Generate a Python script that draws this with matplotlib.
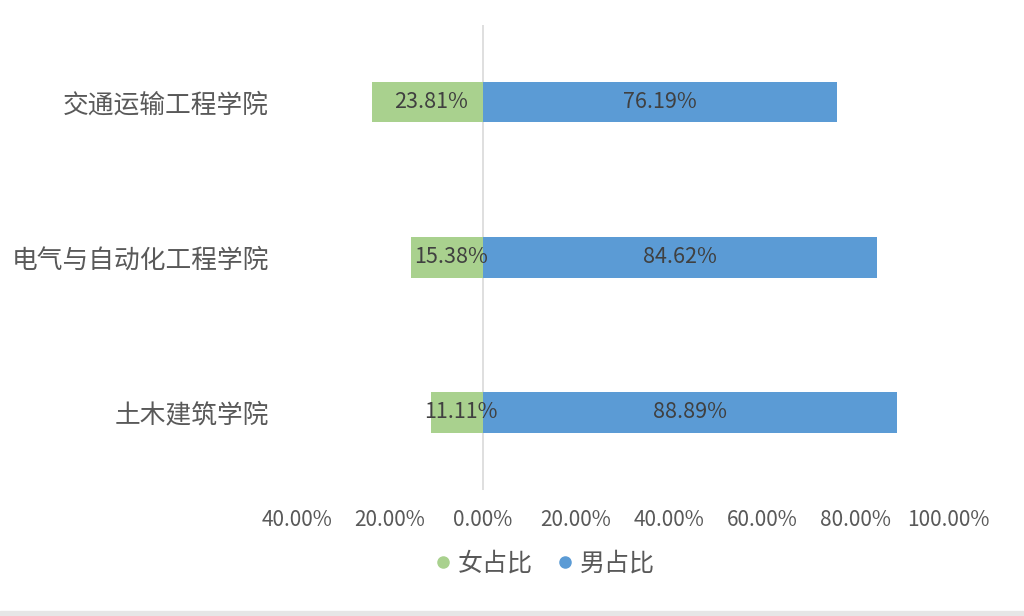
import numpy as np
import matplotlib.pyplot as plt
from matplotlib.patches import Rectangle
from matplotlib.ticker import FuncFormatter

plt.rcParams['font.family'] = ['Noto Sans CJK SC', 'DejaVu Sans']

# 学院与男女占比（%）
colleges = ['交通运输工程学院', '电气与自动化工程学院', '土木建筑学院']
female = [23.81, 15.38, 11.11]
male = [76.19, 84.62, 88.89]
ticks = [-40, -20, 0, 20, 40, 60, 80, 100]

green = '#A9D18E'
blue = '#5B9BD5'
txt = '#595959'

fig = plt.figure(figsize=(10.24, 6.16), dpi=100)
ax = fig.add_axes([0.290, 0.2045, 0.636, 0.7555])

y = np.arange(len(colleges))
h = 0.26
ax.barh(y, [-v for v in female], height=h, color=green, label='女占比', zorder=2)
ax.barh(y, male, height=h, color=blue, label='男占比', zorder=2)

for i in range(len(colleges)):
    ax.text(-female[i] / 2 + 0.8, y[i], f'{female[i]:.2f}%', ha='center', va='center',
            fontsize=15.5, color='#404040', zorder=3)
    ax.text(male[i] / 2, y[i], f'{male[i]:.2f}%', ha='center', va='center',
            fontsize=15.5, color='#404040', zorder=3)

ax.axvline(0, color='#D9D9D9', lw=1.2, zorder=1)
ax.set_xlim(-40, 100)
ax.set_ylim(len(colleges) - 0.5, -0.5)
ax.set_xticks(ticks)
ax.xaxis.set_major_formatter(FuncFormatter(lambda v, p: f'{abs(v):.2f}%'))
ax.set_yticks(y)
ax.set_yticklabels(colleges)
ax.tick_params(axis='x', length=0, labelsize=15, labelcolor=txt, pad=14)
ax.tick_params(axis='y', length=0, labelsize=18.5, labelcolor=txt, pad=20)
for s in ax.spines.values():
    s.set_visible(False)

leg = fig.legend(handles=[
    plt.Line2D([], [], marker='o', ls='', color=green, markersize=8, label='女占比'),
    plt.Line2D([], [], marker='o', ls='', color=blue, markersize=8, label='男占比')],
    loc='center', bbox_to_anchor=(0.53, 0.085), ncol=2, frameon=False,
    fontsize=18, handletextpad=0.1, columnspacing=0.8, handlelength=1.0)
for t in leg.get_texts():
    t.set_color(txt)

fig.patches.append(Rectangle((0, 0), 1, 5 / 616, transform=fig.transFigure,
                             color='#E6E6E6', zorder=0))

fig.savefig('out.png', dpi=100)
